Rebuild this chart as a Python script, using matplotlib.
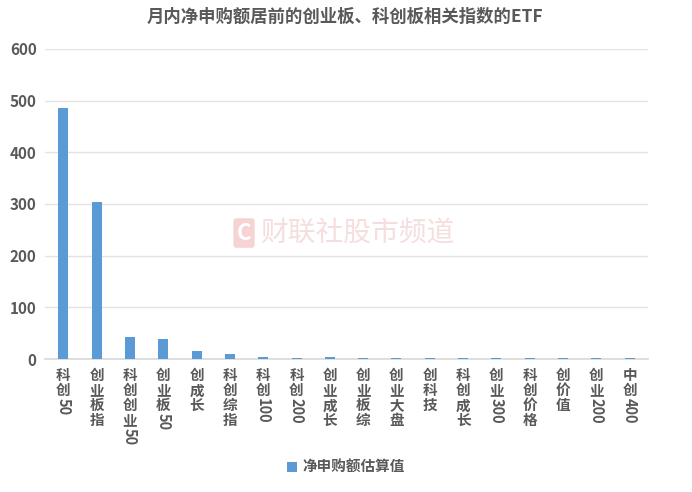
import matplotlib
matplotlib.use("Agg")
import matplotlib.pyplot as plt
import re

plt.rcParams['font.family'] = ['Noto Sans CJK SC', 'DejaVu Sans']

title = "月内净申购额居前的创业板、科创板相关指数的ETF"
categories = ["科创50", "创业板指", "科创创业50", "创业板50", "创成长", "科创综指",
              "科创100", "科创200", "创业成长", "创业板综", "创业大盘", "创科技",
              "科创成长", "创业300", "科创价格", "创价值", "创业200", "中创400"]
values = [486, 304, 42, 38, 15, 9, 4, 1.5, 4, 1.5, 1.5, 1.5, 1.5, 1.5, 1.5, 1.5, 1.5, 1.5]
series_name = "净申购额估算值"
yticks = [0, 100, 200, 300, 400, 500, 600]

bar_color = "#5B9BD5"
text_color = "#595959"

fig = plt.figure(figsize=(6.92, 4.92), dpi=100)
ax = fig.add_axes([45/692, 1-359/492, (648-45)/692, (359-49)/492])

x = list(range(len(categories)))
bars = ax.bar(x, values, width=0.3, color=bar_color, label=series_name, zorder=3)
ax.set_xlim(-0.55, len(categories)-0.45)
ax.set_ylim(0, 600)
ax.set_yticks(yticks)
ax.set_yticklabels([str(t) for t in yticks], fontsize=11, fontweight='bold', color=text_color)
ax.tick_params(axis='y', length=0, pad=6)
ax.tick_params(axis='x', length=0, labelbottom=False)
ax.grid(axis='y', color='#e3e3e3', linewidth=1, zorder=0)
for s in ['top', 'right', 'left']:
    ax.spines[s].set_visible(False)
ax.spines['bottom'].set_color('#d9d9d9')
ax.spines['bottom'].set_linewidth(1.2)

# vertical category labels: CJK upright, digits rotated
step = 10.8  # points per character
start = -6.0
for i, lab in enumerate(categories):
    m = re.match(r"^(\D*)(\d*)$", lab)
    cjk, digits = m.group(1), m.group(2)
    off = start
    for ch in cjk:
        ax.annotate(ch, xy=(i, 0), xycoords=('data', 'axes fraction'),
                    xytext=(0, off), textcoords='offset points',
                    ha='center', va='top', fontsize=10.5, fontweight='bold',
                    color=text_color, annotation_clip=False)
        off -= step
    if digits:
        ax.annotate(digits, xy=(i, 0), xycoords=('data', 'axes fraction'),
                    xytext=(0, off - 0.5), textcoords='offset points',
                    ha='center', va='top', rotation=270, fontsize=10.5,
                    fontweight='bold', color=text_color, annotation_clip=False)

fig.text(345/692, 1-17/492, title, ha='center', va='center', fontsize=12.5,
         fontweight='bold', color=text_color)

# watermark
fig.text(357/692, 1-233/492, "财联社股市频道", ha='center', va='center', fontsize=20,
         color='#f0c8c8', alpha=0.6, zorder=0)
fig.text(244/692, 1-233/492, "C", ha='center', va='center', fontsize=16,
         fontweight='bold', color='white', zorder=1,
         bbox=dict(boxstyle='round,pad=0.15', fc='#f4caca', ec='none', alpha=0.8))

leg = fig.legend(handles=[bars], labels=[series_name], loc='center',
                 bbox_to_anchor=(346/692, 1-467/492), frameon=False,
                 handlelength=0.7, handleheight=0.7, handletextpad=0.4,
                 prop={'size': 10.5, 'weight': 'bold'})
for t in leg.get_texts():
    t.set_color(text_color)

fig.savefig("out.png", dpi=100, facecolor='white')
